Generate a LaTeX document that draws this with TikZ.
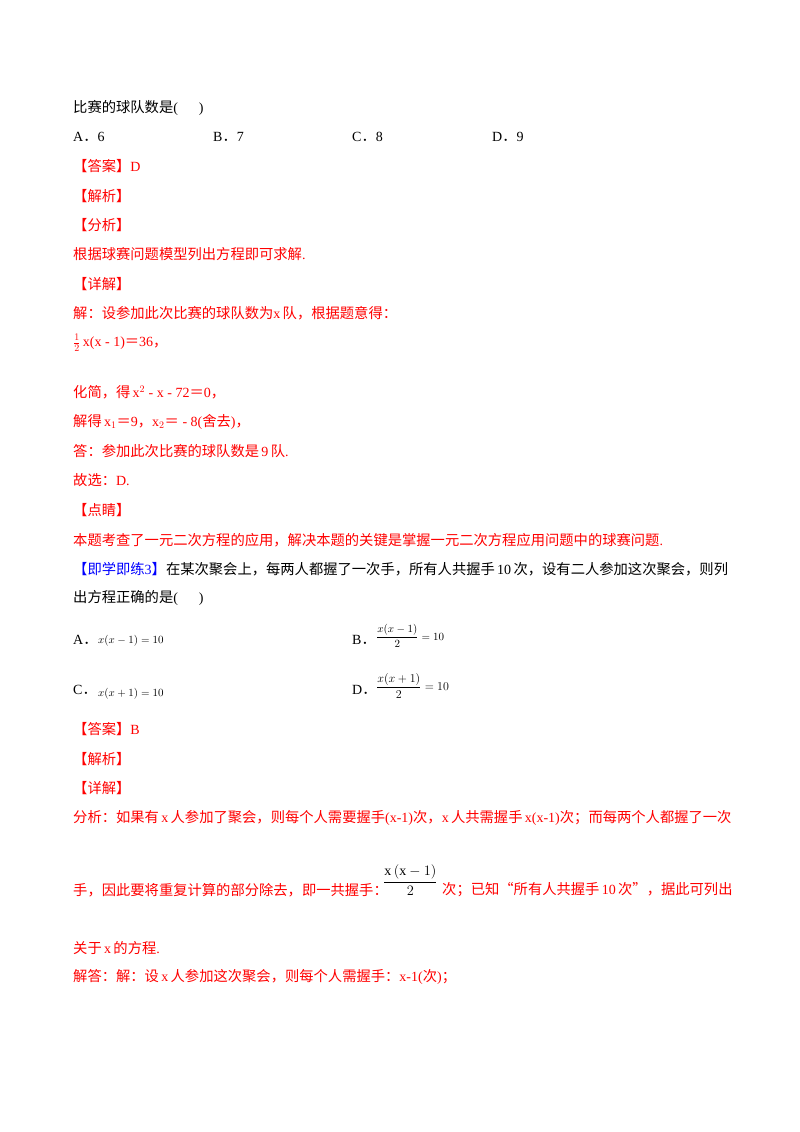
\documentclass[tikz,border=0pt]{standalone}
\usepackage{fontspec}
\setmainfont{Liberation Serif}
\newfontfamily\cjk{Noto Sans CJK SC}
\begin{document}
\begin{tikzpicture}[x=1pt,y=-1pt,
  t/.style={anchor=west,inner sep=0pt,font=\fontsize{14}{16}\selectfont},
  r/.style={t,text=red},
  m/.style={anchor=west,inner sep=0pt,font=\fontsize{11}{13}\selectfont}]
\useasboundingbox[fill=white] (0,0) rectangle (800,1132);
\newcommand\cn[1]{{\cjk\fontsize{14.3}{16}\selectfont #1}}
\node[t] (l1) at (73,108) {\cn{比赛的球队数是}(\quad\ \ )};
\node[t] (a1) at (73,137) {A\cn{．}6};
\node[t] (b1) at (213,137) {B\cn{．}7};
\node[t] (c1) at (352,137) {C\cn{．}8};
\node[t] (d1) at (492,137) {D\cn{．}9};
\node[r] (ans1) at (73,166) {\cn{【答案】}D};
\node[r] (jx1) at (73,196) {\cn{【解析】}};
\node[r] (fx1) at (73,225) {\cn{【分析】}};
\node[r] (l2) at (73,254) {\cn{根据球赛问题模型列出方程即可求解}.};
\node[r] (xj1) at (73,284) {\cn{【详解】}};
\node[r] (l3) at (73,313) {\cn{解：设参加此次比赛的球队数为}x\,\cn{队，根据题意得：}};
\node[r] (l4) at (73,343) {$\frac{1}{2}$\,x(x - 1)\cn{＝}36\cn{，}};
\node[r] (l5) at (73,392) {\cn{化简，得}\,x$^2$ - x - 72\cn{＝}0\cn{，}};
\node[r] (l6) at (73,422) {\cn{解得}\,x$_1$\cn{＝}9\cn{，}x$_2$\cn{＝} - 8(\cn{舍去})\cn{，}};
\node[r] (l7) at (73,451) {\cn{答：参加此次比赛的球队数是}\,9\,\cn{队}.};
\node[r] (l8) at (73,480) {\cn{故选：}D.};
\node[r] (dj) at (73,510) {\cn{【点睛】}};
\node[r] (l9) at (73,540) {\cn{本题考查了一元二次方程的应用，解决本题的关键是掌握一元二次方程应用问题中的球赛问题}.};
\node[t] (l10) at (73,569) {\textcolor{blue}{\cn{【即学即练}3\cn{】}}\cn{在某次聚会上，每两人都握了一次手，所有人共握手}\,10\,\cn{次，设有二人参加这次聚会，则列}};
\node[t] (l11) at (73,598) {\cn{出方程正确的是}(\quad\ \ )};
\node[t] (oa) at (73,640) {A\cn{．}};
\node[m] (oae) at (98,641) {$x(x-1)=10$};
\node[t] (ob) at (352,640) {B\cn{．}};
\node[m] (obe) at (376,636) {$\displaystyle\frac{x(x-1)}{2}=10$};
\node[t] (oc) at (73,690) {C\cn{．}};
\node[m] (oce) at (98,694) {$x(x+1)=10$};
\node[t] (od) at (352,690) {D\cn{．}};
\node[m,font=\fontsize{13}{15}\selectfont] (ode) at (376,686) {$\displaystyle\frac{x(x+1)}{2}=10$};
\node[r] (ans2) at (73,729) {\cn{【答案】}B};
\node[r] (jx2) at (73,759) {\cn{【解析】}};
\node[r] (xj2) at (73,788) {\cn{【详解】}};
\node[r] (l12) at (73,818) {\cn{分析：如果有}\,x\,\cn{人参加了聚会，则每个人需要握手}(x-1)\cn{次，}x\,\cn{人共需握手}\,x(x-1)\cn{次；而每两个人都握了一次}};
\node[r] (l13) at (73,890) {\cn{手，因此要将重复计算的部分除去，即一共握手：}};
\node[t] (fr) at (383,880) {$\displaystyle\frac{\mathrm{x}\left(\mathrm{x}-1\right)}{2}$};
\node[r] (l13b) at (442,890) {\cn{次；已知“所有人共握手}\,10\,\cn{次”，据此可列出}};
\node[r] (l14) at (73,948) {\cn{关于}\,x\,\cn{的方程}.};
\node[r] (l15) at (73,977) {\cn{解答：解：设}\,x\,\cn{人参加这次聚会，则每个人需握手：}x-1(\cn{次})\cn{；}};
\end{tikzpicture}
\end{document}
